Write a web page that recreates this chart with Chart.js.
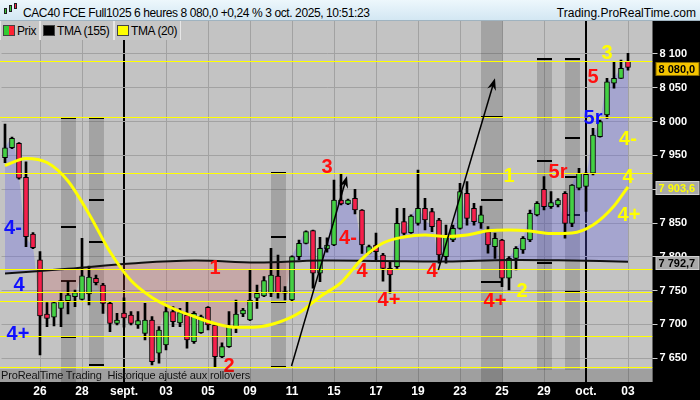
<!DOCTYPE html>
<html><head><meta charset="utf-8"><title>CAC40 FCE Full1025 6 heures</title>
<script src="https://cdn.jsdelivr.net/npm/chart.js@4.4.1/dist/chart.umd.min.js"></script>
<style>
*{box-sizing:border-box}
html,body{margin:0;padding:0;background:#000;overflow:hidden}
#wrap{position:relative;width:700px;height:400px;overflow:hidden;background:#000;font-family:"Liberation Sans",Arial,sans-serif}
#c{position:absolute;left:0;top:0}
#title{position:absolute;left:0;top:0;width:700px;height:21px;background:linear-gradient(#edf7fc,#d3e7f3);border-bottom:1px solid #9fb3c0}
#title .t{position:absolute;left:23px;top:7px;font-size:12px;line-height:12px;letter-spacing:-0.4px;color:#000;white-space:pre}
#title .r{position:absolute;right:4px;top:7px;font-size:12px;line-height:12px;color:#000;white-space:pre}
.ico{position:absolute;border:1px solid #222}
.box{position:absolute;top:21px;height:19px;background:#c6c6c6;border-left:1px solid #e6e6e6;border-right:1px solid #e6e6e6}
.sw{position:absolute;top:4px;width:12px;height:11px;border:1px solid #444}
.lt{position:absolute;top:4px;font-size:12px;line-height:12px;letter-spacing:-0.4px;color:#000;white-space:pre}
#strip{position:absolute;left:0;top:369px;width:652px;height:13px;background:rgba(0,0,0,0.18);font-size:11px;line-height:13px;letter-spacing:-0.15px;color:#111;padding-left:1px;white-space:pre}
</style></head>
<body>
<div id="wrap">
<canvas id="c" width="700" height="400"></canvas>
<div id="title">
  <span class="ico" style="left:4px;top:8px;width:3px;height:6px;background:#3c3"></span>
  <span class="ico" style="left:9px;top:5px;width:3px;height:7px;background:#3c3"></span>
  <span class="ico" style="left:14px;top:3px;width:3px;height:6px;background:#f24"></span>
  <span class="t">CAC40 FCE Full1025 6 heures 8 080,0 +0,24 % 3 oct. 2025, 10:51:23</span>
  <span class="r">Trading.ProRealTime.com</span>
</div>
<div class="box" style="left:0;width:40px"><span class="sw" style="left:2px;background:linear-gradient(90deg,#3c3 50%,#f23 50%)"></span><span class="lt" style="left:16px">Prix</span></div>
<div class="box" style="left:40px;width:74px"><span class="sw" style="left:2px;background:#000"></span><span class="lt" style="left:16px">TMA (155)</span></div>
<div class="box" style="left:114px;width:67px"><span class="sw" style="left:2px;background:#ff0"></span><span class="lt" style="left:16px">TMA (20)</span></div>
<div id="strip">ProRealTime Trading  Historique ajusté aux rollovers</div>
</div>
<script>
// ---------- data ----------
const nCats = 93;
const tickIdx  = [5, 11, 17, 23, 29, 35, 41, 47, 53, 59, 65, 71, 77, 83, 89];
const tickText = ['26','28','sept.','03','05','09','11','15','17','19','23','25','29','oct.','03'];
const monthIdx = [17, 83];

const opens = [7946.6,7961.4,7968.0,7917.6,7833.8,7795.4,7715.5,7710.6,7723.9,7735.2,
 7741.1,7737.2,7745.0,7768.3,7758.4,7731.3,7701.7,7717.0,7714.0,7699.2,
 7686.9,7706.6,7657.4,7669.6,7718.9,7702.2,7714.0,7674.5,7687.8,7725.4,
 7699.2,7652.4,7667.1,7696.7,7715.5,7706.6,7738.7,7742.1,7746.1,7771.7,
 7748.5,7736.2,7800.3,7820.0,7838.7,7775.7,7811.6,7817.5,7884.1,7878.2,
 7886.6,7869.3,7805.3,7817.5,7802.7,7783.0,7785.5,7852.0,7835.7,7849.6,
 7871.8,7866.8,7854.5,7800.3,7824.9,7842.2,7894.0,7871.8,7850.0,7837.2,
 7815.0,7824.9,7768.3,7797.8,7810.1,7824.9,7861.9,7900.0,7874.2,7876.7,
 7894.0,7849.6,7901.4,7904.0,7923.6,7977.7,8009.8,8056.7,8064.0,8089.0];
const highs = [7996.5,7977.0,7969.0,7940.7,7836.0,7807.6,7732.2,7733.7,7747.0,7763.3,
 7751.0,7827.5,7786.5,7773.2,7760.9,7733.7,7716.5,7739.2,7719.0,7719.0,
 7731.3,7711.5,7696.7,7726.3,7726.3,7723.9,7733.7,7718.9,7714.0,7726.3,
 7700.5,7673.0,7718.9,7736.2,7724.0,7780.6,7758.4,7770.7,7812.6,7802.7,
 7755.9,7801.5,7824.9,7838.5,7839.5,7828.9,7828.0,7913.7,7923.6,7885.5,
 7900.0,7870.0,7817.5,7835.0,7805.3,7792.8,7871.8,7871.8,7862.0,7928.4,
 7886.6,7871.8,7857.0,7847.0,7847.0,7908.8,7911.2,7879.0,7875.0,7844.6,
 7835.0,7826.0,7800.3,7815.0,7830.0,7869.3,7881.6,7918.6,7896.4,7886.0,
 7896.4,7907.0,7931.0,7925.0,7990.0,8002.4,8064.0,8088.6,8091.1,8101.0];
const lows = [7939.3,7960.0,7915.0,7815.0,7812.0,7654.9,7696.7,7697.7,7696.7,7715.5,
 7726.3,7736.2,7728.8,7758.4,7716.5,7689.3,7699.2,7696.0,7699.2,7694.3,
 7677.0,7640.0,7642.6,7662.3,7696.7,7696.7,7664.8,7672.0,7686.9,7691.8,
 7637.6,7651.0,7666.0,7687.8,7711.5,7705.5,7723.9,7741.1,7741.1,7738.7,
 7736.2,7735.0,7795.4,7819.0,7753.5,7763.3,7807.0,7816.5,7876.7,7877.0,
 7863.4,7805.0,7804.5,7795.4,7764.0,7746.1,7783.0,7832.3,7834.8,7847.0,
 7839.7,7837.2,7790.5,7790.5,7822.4,7841.0,7847.0,7847.0,7842.0,7805.3,
 7797.8,7756.0,7751.0,7780.6,7805.0,7822.4,7860.4,7869.3,7871.8,7874.0,
 7827.5,7844.6,7898.9,7867.0,7921.0,7977.0,8004.9,8049.3,8064.0,8076.0];
const closes = [7961.4,7975.3,7916.3,7829.8,7813.5,7712.5,7709.1,7732.2,7735.2,7743.6,
 7747.0,7772.1,7770.0,7761.8,7731.3,7701.7,7706.6,7709.6,7701.7,7705.6,
 7706.6,7644.9,7691.8,7718.9,7704.1,7717.4,7677.0,7716.5,7711.5,7699.2,
 7652.4,7667.1,7696.7,7715.5,7721.4,7736.2,7746.1,7764.8,7773.2,7747.0,
 7746.1,7800.3,7820.0,7837.2,7775.7,7812.6,7817.5,7884.1,7878.2,7884.1,
 7869.3,7817.5,7815.0,7807.6,7783.0,7773.2,7849.6,7834.8,7860.4,7871.8,
 7854.5,7844.6,7802.7,7832.3,7842.2,7896.4,7857.0,7852.0,7862.0,7817.5,
 7827.5,7768.3,7797.8,7812.6,7827.5,7864.4,7879.2,7874.2,7880.1,7884.1,
 7849.6,7906.3,7923.6,7922.0,7980.2,7999.9,8059.0,8064.0,8078.9,8080.0];

const tma20Idx = [0,3,6,9,12,15,18,21,24,27,30,33,36,39,42,45,48,51,54,57,60,63,66,69,72,75,78,81,84,87,89];
const tma20Val = [7935.1,7945.5,7939.5,7912.2,7863.4,7807.6,7765.0,7739.9,7723.6,7711.8,7701.4,7695.8,7696.3,7702.9,7716.9,7741.1,7762.0,7797.0,7820.5,7829.4,7832.3,7830.1,7832.3,7838.7,7839.7,7838.2,7834.5,7835.3,7847.1,7875.2,7903.6];
const tma155Idx = [0,9,18,27,36,45,54,63,72,81,89];
const tma155Val = [7775.4,7782.3,7790.2,7794.6,7791.6,7794.6,7793.9,7793.1,7795.4,7794.6,7792.7];

const levels = [8090.1, 8006.4, 7923.6, 7781.6, 7747.6, 7734.0, 7682.2, 7636.7];

const bandFrom   = [8, 12, 38, 68, 76, 80];
const bandTo     = [10.14, 14.14, 40.14, 71.1, 78.14, 82.14];
const bandTop    = [8004.9, 8004.9, 7923.6, 8148.8, 8092.6, 8092.6];
const bandBottom = [7614.9, 7638.6, 7637.1, 7614.9, 7632.7, 7632.7];
const markBand = [0,0,0,0, 1,1,1,1, 2,2,2,2, 3,3,3, 4,4,4, 5,5,5,5,5];
const markVal  = [8004.9,7843.7,7764.8,7682.0, 8004.9,7884.1,7821.5,7640.0, 7923.6,7828.9,7733.7,7637.6,
                  8006.4,7884.1,7763.3, 8092.6,7941.8,7791.4, 8092.6,7975.3,7918.6,7861.9,7747.6];

const arrowFromIdx = [40.93, 61.9];
const arrowFromVal = [7638.6, 7780.6];
const arrowToIdx   = [48.86, 70.0];
const arrowToVal   = [7919.6, 8064.1];

const annoText = ['4-','4','4+','1','2','3','4-','4','4+','4','4+','5r','5','5r','3','4-','4','4+','1','2'];
const annoIdx  = [1.14,2.0,1.86,30.0,32.0,46.0,49.0,51.0,54.86,61.0,70.0,79.0,84.0,84.0,86.0,89.0,89.0,89.14,72.0,73.86];
const annoVal  = [7844.2,7761.3,7687.4,7785.0,7641.5,7934.4,7830.8,7780.6,7737.7,7782.0,7736.2,7928.4,8068.9,8008.3,8104.4,7975.8,7919.6,7863.4,7921.1,7751.0];
const annoKind = ['b','b','b','r','r','r','r','r','r','r','r','r','r','b','y','y','y','y','y','y'];

const yMin = 7614.9, yMax = 8148.8;

// ---------- derived tables ----------
const labels = new Array(nCats).fill('');
tickIdx.forEach((k, j) => { labels[k] = tickText[j]; });
function sparse(idx, val) { const a = new Array(closes.length).fill(null); idx.forEach((k, j) => { a[k] = val[j]; }); return a; }
const tma20 = sparse(tma20Idx, tma20Val);
const tma155 = sparse(tma155Idx, tma155Val);
const GREEN = '#44d044', RED = '#f5204c';
const bodyColors = closes.map((c, i) => c >= opens[i] ? GREEN : RED);
const kindColor = {r: '#ff1010', b: '#1010ff', y: '#ffff00'};

function fmtNum(v, dec) {
  const s = dec ? v.toFixed(dec) : String(Math.round(v));
  const parts = s.split('.');
  parts[0] = parts[0].replace(/\B(?=(\d{3})+(?!\d))/g, ' ');
  return parts.join(',');
}

const FONT = '"Liberation Sans", Arial, sans-serif';
Chart.defaults.font.family = FONT;

const overlay = {
  id: 'overlay',
  beforeDraw(chart) {
    const {ctx, chartArea: a} = chart;
    ctx.save();
    ctx.fillStyle = '#000';
    ctx.fillRect(0, 0, chart.width, chart.height);
    ctx.fillStyle = '#c3c3c3';
    ctx.fillRect(0, a.top, a.right, a.bottom - a.top);
    ctx.restore();
  },
  beforeDatasetsDraw(chart) {
    const {ctx, chartArea: a, scales: {x, y}} = chart;
    ctx.save();
    ctx.beginPath(); ctx.rect(0, a.top, a.right, a.bottom - a.top); ctx.clip();
    bandFrom.forEach((f, k) => {
      const x0 = x.getPixelForValue(f), x1 = x.getPixelForValue(bandTo[k]);
      const t = y.getPixelForValue(Math.min(bandTop[k], yMax));
      const b = y.getPixelForValue(Math.max(bandBottom[k], yMin));
      ctx.fillStyle = 'rgba(0,0,0,0.16)';
      ctx.fillRect(x0, t, x1 - x0, b - t);
    });
    ctx.fillStyle = '#000';
    markVal.forEach((v, k) => {
      const bi = markBand[k];
      const x0 = x.getPixelForValue(bandFrom[bi]), x1 = x.getPixelForValue(bandTo[bi]);
      const py = Math.round(y.getPixelForValue(v));
      ctx.fillRect(x0, py - 1, x1 - x0, 2);
    });
    ctx.restore();
  },
  afterDatasetsDraw(chart) {
    const {ctx, chartArea: a, scales: {x, y}} = chart;
    ctx.save();
    ctx.beginPath(); ctx.rect(0, a.top, a.right, a.bottom - a.top); ctx.clip();
    // horizontal levels
    ctx.fillStyle = '#ffff00';
    levels.forEach(v => {
      const py = Math.round(y.getPixelForValue(v));
      ctx.fillRect(0, py, a.right, 1);
    });
    // arrows
    ctx.strokeStyle = '#000'; ctx.fillStyle = '#000'; ctx.lineWidth = 1.5;
    arrowFromIdx.forEach((f, k) => {
      const x0 = x.getPixelForValue(f), y0 = y.getPixelForValue(arrowFromVal[k]);
      const x1 = x.getPixelForValue(arrowToIdx[k]), y1 = y.getPixelForValue(arrowToVal[k]);
      const ang = Math.atan2(y1 - y0, x1 - x0);
      ctx.beginPath(); ctx.moveTo(x0, y0); ctx.lineTo(x1 - 6 * Math.cos(ang), y1 - 6 * Math.sin(ang)); ctx.stroke();
      ctx.beginPath();
      ctx.moveTo(x1, y1);
      ctx.lineTo(x1 - 12 * Math.cos(ang) + 4.5 * Math.sin(ang), y1 - 12 * Math.sin(ang) - 4.5 * Math.cos(ang));
      ctx.lineTo(x1 - 8 * Math.cos(ang), y1 - 8 * Math.sin(ang));
      ctx.lineTo(x1 - 12 * Math.cos(ang) - 4.5 * Math.sin(ang), y1 - 12 * Math.sin(ang) + 4.5 * Math.cos(ang));
      ctx.closePath(); ctx.fill();
    });
    // wave labels
    ctx.font = 'bold 20px ' + FONT;
    ctx.textAlign = 'center'; ctx.textBaseline = 'alphabetic';
    annoText.forEach((t, k) => {
      ctx.fillStyle = kindColor[annoKind[k]];
      ctx.fillText(t, x.getPixelForValue(annoIdx[k]), y.getPixelForValue(annoVal[k]) + 7.5);
    });
    ctx.restore();
  },
  afterDraw(chart) {
    const {ctx, chartArea: a, scales: {y}} = chart;
    const last = closes.length - 1;
    const boxes = [
      {v: closes[last], bg: '#f4c400', fg: '#000', bd: '#8a6d00'},
      {v: tma20[last], bg: '#a8a8a8', fg: '#ffff00', bd: '#d0d0d0'},
      {v: tma155[last], bg: '#a8a8a8', fg: '#000', bd: '#d0d0d0'}
    ];
    ctx.save();
    ctx.font = 'bold 11px ' + FONT;
    ctx.textAlign = 'left'; ctx.textBaseline = 'middle';
    boxes.forEach(b => {
      const py = Math.round(y.getPixelForValue(b.v)) + 1;
      ctx.fillStyle = b.bg; ctx.fillRect(a.right + 3.5, py - 7, 43, 14);
      ctx.strokeStyle = b.bd; ctx.lineWidth = 1; ctx.strokeRect(a.right + 3.5, py - 6.5, 43, 13);
      ctx.fillStyle = b.fg; ctx.fillText(fmtNum(b.v, 1), a.right + 6, py + 0.5);
    });
    ctx.restore();
  }
};

new Chart(document.getElementById('c'), {
  type: 'bar',
  data: {
    labels: labels,
    datasets: [
      {type: 'line', label: 'TMA (20)', data: tma20, borderColor: '#ffff00', borderWidth: 3, pointRadius: 0,
       spanGaps: true, cubicInterpolationMode: 'monotone', fill: false, order: 0},
      {type: 'line', label: 'TMA (155)', data: tma155, borderColor: '#111', borderWidth: 2, pointRadius: 0,
       spanGaps: true, tension: 0.4, fill: false, order: 1},
      {label: 'Corps', data: opens.map((o, i) => [o, closes[i]]), backgroundColor: bodyColors,
       borderColor: '#000', borderWidth: 1, borderSkipped: false, barThickness: 5, grouped: false, order: 2},
      {label: 'Mèches', data: lows.map((l, i) => [l, highs[i]]), backgroundColor: '#000',
       borderWidth: 0, barThickness: 2, grouped: false, order: 3},
      {type: 'line', label: 'Prix', data: closes, borderWidth: 0, borderColor: 'rgba(0,0,0,0)', pointRadius: 0,
       tension: 0.3, fill: {target: 1, above: 'rgba(95,95,235,0.30)', below: 'rgba(205,85,85,0.24)'}, order: 10}
    ]
  },
  options: {
    responsive: false, animation: false, devicePixelRatio: 1,
    layout: {padding: {top: 21, left: 1.5, right: 0, bottom: 0}},
    plugins: {legend: {display: false}, tooltip: {enabled: false}},
    scales: {
      x: {
        type: 'category', offset: true,
        grid: {
          offset: false, drawTicks: false,
          color: c => monthIdx.includes(c.index) ? '#000' : (tickIdx.includes(c.index) ? '#a2a2a2' : 'rgba(0,0,0,0)'),
          lineWidth: c => monthIdx.includes(c.index) ? 2 : 1
        },
        border: {display: false},
        ticks: {autoSkip: false, maxRotation: 0, minRotation: 0, color: '#fff', padding: 2,
                font: {weight: 'bold', size: 12}},
        afterFit(s) { s.height = 18; }
      },
      y: {
        position: 'right', min: yMin, max: yMax,
        grid: {color: '#a2a2a2', tickLength: 5, tickColor: '#d0d0d0'},
        border: {display: false},
        ticks: {stepSize: 50, includeBounds: false, color: '#fff', padding: 2,
                font: {weight: 'bold', size: 11}, callback: v => fmtNum(v, 0)},
        afterFit(s) { s.width = 47.5; }
      }
    }
  },
  plugins: [overlay]
});
</script>
</body></html>
